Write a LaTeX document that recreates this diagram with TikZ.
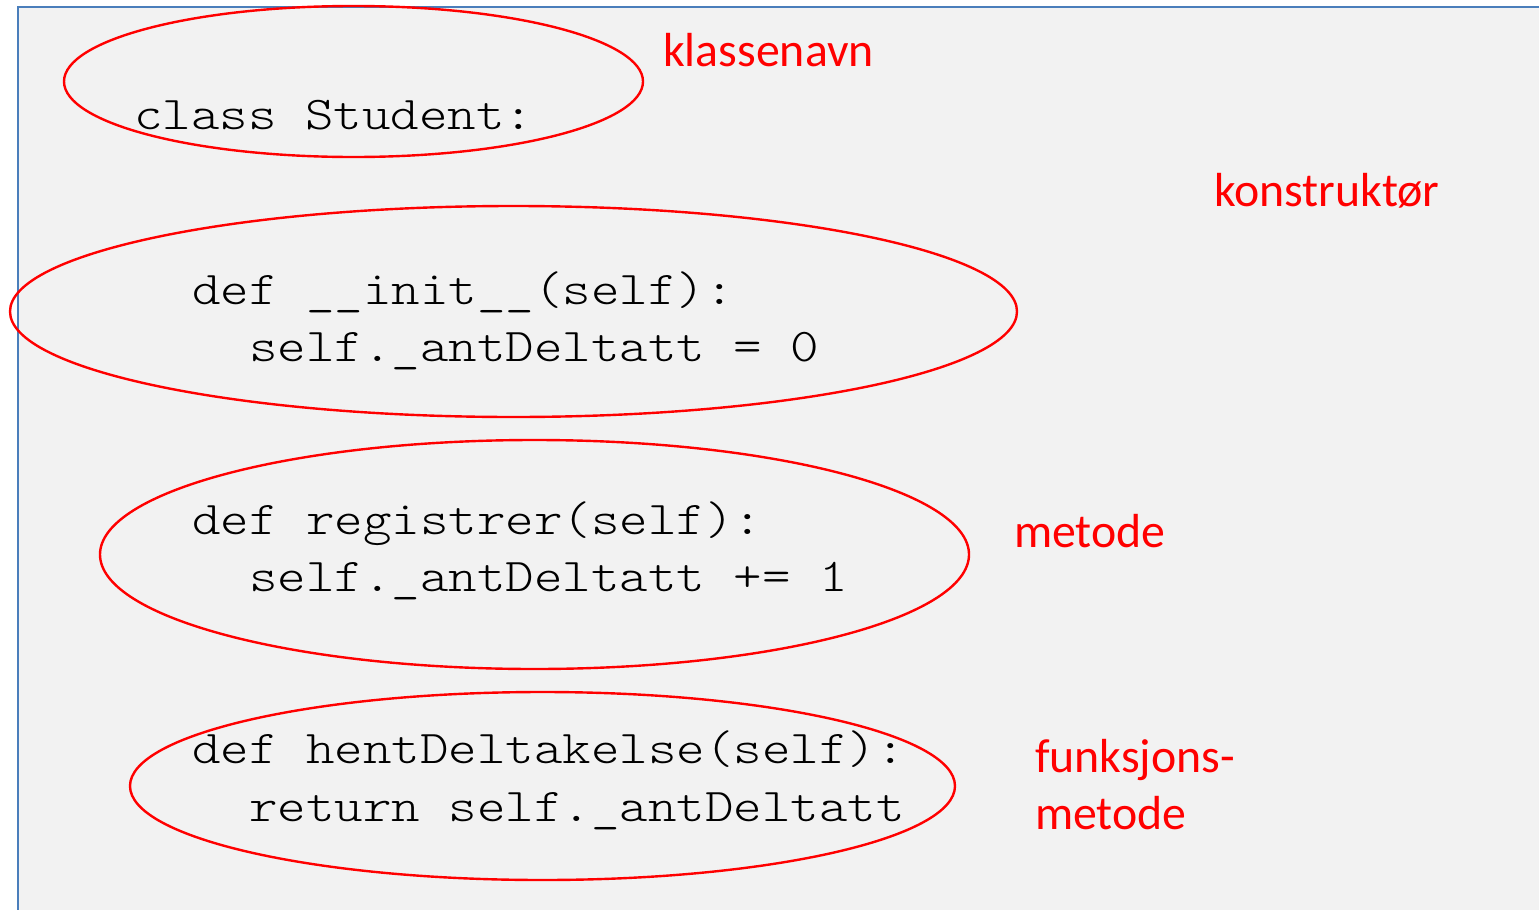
\documentclass[tikz,border=0pt]{standalone}
\usepackage{fontspec}
\newfontfamily\labfont{Carlito}
\newfontfamily\codefont{lmmonolt10-regular.otf}[FakeStretch=1.155]
\definecolor{frameblue}{RGB}{74,126,187}
\definecolor{panel}{RGB}{242,242,242}
\definecolor{lab}{RGB}{255,0,0}
\begin{document}
\begin{tikzpicture}[x=1pt,y=-1pt,
  code/.style={anchor=base west,inner sep=0pt,font=\fontsize{47}{57}\selectfont\codefont,text=black},
  lbl/.style={anchor=base west,inner sep=0pt,font=\fontsize{47.8}{58}\selectfont\labfont,text=lab},
  ring/.style={draw=lab,line width=2.4pt}]
\useasboundingbox (0,0) rectangle (1539,910);
\fill[white] (0,0) rectangle (1539,910);
\draw[fill=panel,draw=frameblue,line width=2.8pt] (18,7) rectangle (1560,930);
% code
\node[code] (c1) at (134,129) {class Student:};
\node[code] (c2) at (192,304) {def \_\_init\_\_(self):};
\node[code] (c3) at (249,361) {self.\_antDeltatt = 0};
\node[code] (c4) at (192,534) {def registrer(self):};
\node[code] (c5) at (249,591) {self.\_antDeltatt += 1};
\node[code] (c6) at (192,763) {def hentDeltakelse(self):};
\node[code] (c7) at (249,821) {return self.\_antDeltatt};
% ellipses
\draw[ring] (353.5,81.5) ellipse [x radius=289.5,y radius=75.5];
\draw[ring] (513.5,311.5) ellipse [x radius=503.5,y radius=105.5];
\draw[ring] (534.5,554.5) ellipse [x radius=434.5,y radius=114.5];
\draw[ring] (542.5,786) ellipse [x radius=412.5,y radius=94];
% labels
\node[lbl] (l1) at (663,66) {klassenavn};
\node[lbl] (l2) at (1214,206) {konstruktør};
\node[lbl] (l3) at (1014,547) {metode};
\node[lbl] (l4) at (1035,772) {funksjons-};
\node[lbl] (l5) at (1035,829) {metode};
\end{tikzpicture}
\end{document}
